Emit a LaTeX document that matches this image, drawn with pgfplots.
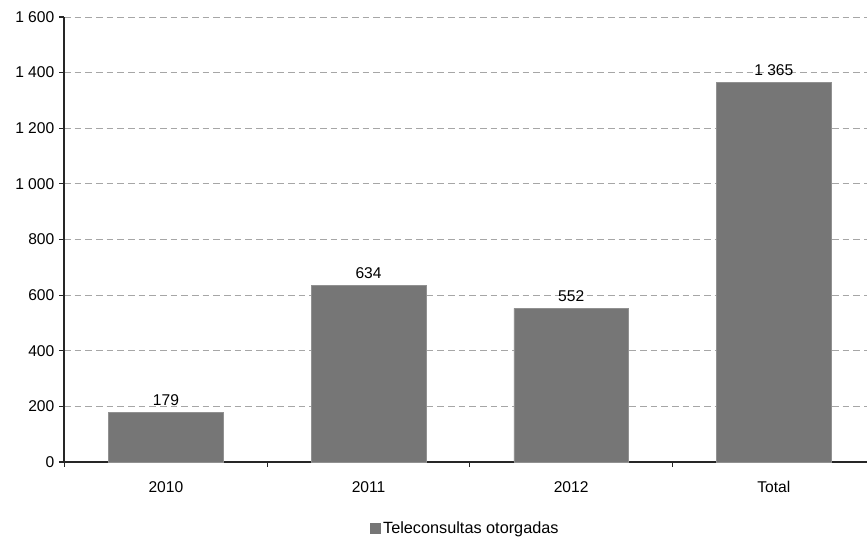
\documentclass[border=0pt]{standalone}
\usepackage{fontspec}
\setmainfont{Liberation Sans}
\usepackage{pgfplots}
\pgfplotsset{compat=1.18}
\definecolor{barfill}{HTML}{767676}
\definecolor{gridgray}{HTML}{A6A6A6}
\newcommand{\lblfont}{\fontsize{11.7}{13}\selectfont}
\begin{document}
\begin{tikzpicture}
\useasboundingbox (0,0) rectangle (650.25pt,403.5pt);
\begin{axis}[
  at={(48pt,57pt)}, anchor=south west,
  scale only axis,
  width=602.25pt, height=333.75pt,
  xmin=-0.503, xmax=3.46,
  ymin=0, ymax=1600,
  ytick={0,200,...,1600},
  xtick={0,1,2,3},
  xticklabels={2010,2011,2012,Total},
  minor xtick={-0.5,0.5,1.5,2.5},
  axis x line*=bottom,
  axis y line*=left,
  axis line style={black!85, line width=0.8pt},
  tick style={black!85, line width=0.8pt},
  tick align=outside,
  major tick length=3.75pt,
  minor tick length=3.75pt,
  x tick style={draw=none},
  minor x tick style={draw=black!85},
  ymajorgrids,
  grid style={gridgray, dash pattern=on 5pt off 3pt, line width=0.6pt},
  /pgf/number format/assume math mode=true,
  /pgf/number format/1000 sep={\ },
  yticklabel style={font=\lblfont, xshift=0pt},
  xticklabel style={font=\lblfont, text height=1.6ex, text depth=0.3ex, yshift=-7.5pt},
  ybar, bar width=86pt,
  nodes near coords,
  nodes near coords style={font=\lblfont, black, yshift=1.5pt,
    /pgf/number format/assume math mode=true, /pgf/number format/1000 sep={\ }},
  legend style={at={(0.5,-0.15)}, anchor=center, draw=none,
    font=\fontsize{12.2}{14}\selectfont},
  legend image code/.code={\fill[barfill] (-2.5pt,-3.7pt) rectangle (5pt,3.8pt);},
  clip=false,
]
\addplot[fill=barfill, draw=barfill!80!white, line width=0.5pt] coordinates {(0,179) (1,634) (2,552) (3,1365)};
\addlegendentry{Teleconsultas otorgadas}
\end{axis}
\end{tikzpicture}
\end{document}
